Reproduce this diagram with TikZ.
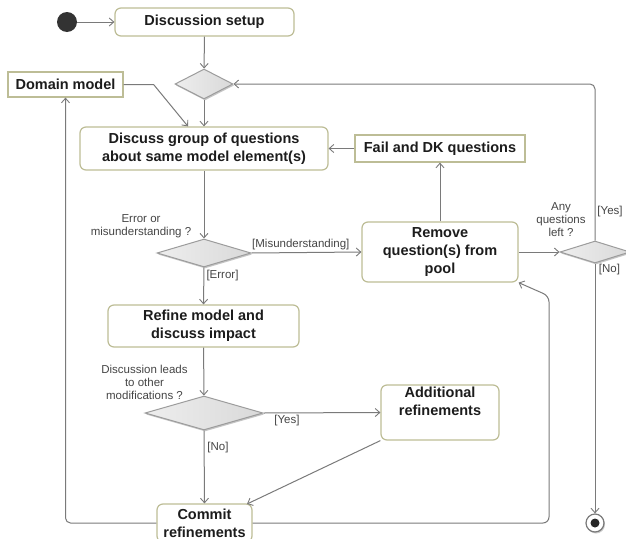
\documentclass[tikz,border=0pt]{standalone}
\usepackage{fontspec}
\setmainfont{Liberation Sans}
\usetikzlibrary{arrows.meta,shapes.geometric,shadows}
\definecolor{edgegray}{HTML}{7A7A7A}
\definecolor{boxline}{HTML}{BDBD96}
\definecolor{decfill}{HTML}{D9D9D9}
\definecolor{decline}{HTML}{9C9C9C}
\definecolor{txt}{HTML}{1C1C1C}
\definecolor{lbltxt}{HTML}{454545}

\tikzset{
  act/.style={draw=boxline, line width=1.2pt, rounded corners=6pt, fill=white,
    align=center, text=txt, inner sep=0pt,
    font=\bfseries\fontsize{14.5}{18}\selectfont},
  objbox/.style={act, rounded corners=0pt},
  dec/.style={diamond, draw=decline, line width=1pt, inner sep=0pt,
    left color=decfill!45, right color=decfill,
    drop shadow={shadow xshift=1pt, shadow yshift=-1.5pt, opacity=0.45}},
  flow/.style={draw=edgegray, line width=1pt,
    -{Straight Barb[length=4.5pt,width=8pt,line width=0.9pt]}},
  guard/.style={text=lbltxt, align=center, inner sep=0pt,
    font=\fontsize{11.5}{13}\selectfont},
}

\begin{document}
\begin{tikzpicture}[x=1pt, y=-1pt]
\useasboundingbox (0,0) rectangle (626,538);
\clip (0,0) rectangle (626,538);
\fill[white] (0,0) rectangle (626,538);

% start and end
\node[circle, fill=black!80, minimum size=20pt, inner sep=0pt] (init) at (67,22) {};
\node[circle, draw=edgegray, line width=1.2pt, fill=white, minimum size=18pt,
      inner sep=0pt, drop shadow={shadow xshift=1pt, shadow yshift=-1.5pt, opacity=0.4}] (fin) at (595,523) {};
\fill[black!85] (fin.center) circle (4.5pt);

% actions
\node[act, minimum width=179pt, minimum height=28pt] (setup) at (204.5,22) {Discussion setup};
\node[objbox, minimum width=115pt, minimum height=25pt] (dm) at (65.5,84.5) {Domain model};
\node[act, minimum width=248pt, minimum height=43pt] (disc) at (204,148.5)
  {Discuss group of questions\\about same model element(s)};
\node[objbox, minimum width=170pt, minimum height=27pt] (fail) at (440,148.5) {Fail and DK questions};
\node[act, minimum width=156pt, minimum height=60pt] (rem) at (440,252)
  {Remove\\question(s) from\\pool};
\node[act, minimum width=191pt, minimum height=42pt] (ref) at (203.5,326)
  {Refine model and\\discuss impact};
\node[act, minimum width=118pt, minimum height=55pt] (add) at (440,412.5)
  {Additional\\refinements\\\strut};
\node[act, minimum width=95pt, minimum height=38pt] (com) at (204.5,523)
  {Commit\\refinements};

% decisions
\node[dec, minimum width=58pt, minimum height=30pt] (d1) at (204,84) {};
\node[dec, minimum width=94pt, minimum height=28pt] (d2) at (204,253) {};
\node[dec, minimum width=70pt, minimum height=22pt] (d3) at (595,252) {};
\node[dec, minimum width=118pt, minimum height=34pt] (d4) at (204,413) {};

% flows
\draw[flow] (init) -- (setup);
\draw[flow] (setup) -- (d1);
\draw[flow] (dm.east) -- ++(30,0) -- ([xshift=-16pt]disc.north);
\draw[flow] (d1) -- (disc);
\draw[flow] (fail) -- (disc);
\draw[flow] (disc) -- (d2);
\draw[flow] (d2.east) -- (rem.west);
\draw[flow] (d2.south) -- (ref.north);
\draw[flow] (rem) -- (fail);
\draw[flow] (rem.east) -- (d3.west);
\draw[flow, rounded corners=5pt] (d3.north) |- (d1.east);
\draw[flow] (d3.south) -- (fin.north);
\draw[flow] (ref) -- (d4);
\draw[flow] (d4.east) -- (add.west);
\draw[flow] (d4.south) -- (com.north);
\coordinate (cm) at (247,504);
\draw[flow] (add.south west) -- (cm);
\draw[flow, rounded corners=5pt] (com.west) -| (dm.south);
\coordinate (lp) at (549,296);
\draw[flow, rounded corners=6pt] (com.east) -| (lp) -- (rem.south east);

% guards and questions
\node[guard] (q1) at (141,226) {Error or\\misunderstanding ?};
\node[guard, anchor=south west] (g1) at (252,250) {[Misunderstanding]};
\node[guard] (g2) at (222.5,276) {[Error]};
\node[guard] (q2) at (561,220) {Any\\questions\\left ?};
\node[guard] (g3) at (610,212) {[Yes]};
\node[guard] (g4) at (609.5,270) {[No]};
\node[guard] (q3) at (144.5,382.5) {Discussion leads\\to other\\modifications ?};
\node[guard] (g5) at (287,421) {[Yes]};
\node[guard] (g6) at (218,448) {[No]};
\end{tikzpicture}
\end{document}
